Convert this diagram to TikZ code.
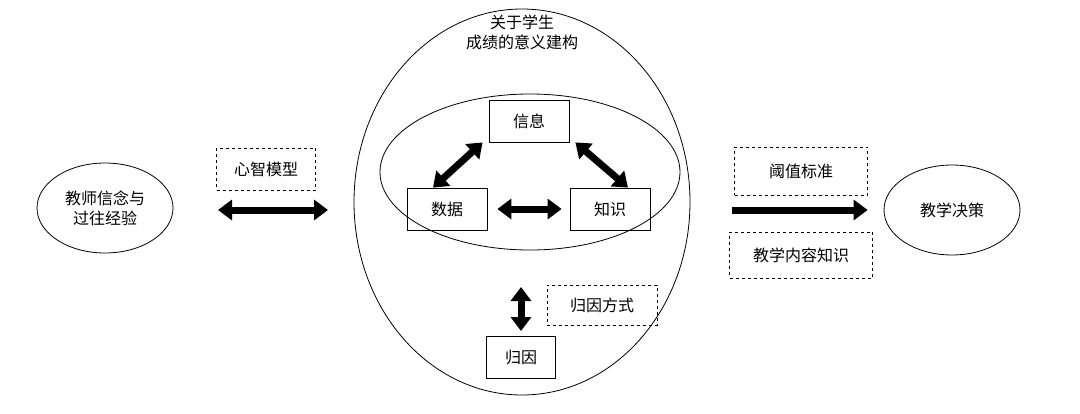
\documentclass[tikz,border=0pt]{standalone}
\usepackage{fontspec}
\setmainfont{Noto Sans CJK SC}
\usetikzlibrary{arrows.meta,shapes.geometric}
\begin{document}
\begin{tikzpicture}[x=1pt,y=-1pt,
  txt/.style={font=\fontsize{16}{20}\selectfont,align=center},
  box/.style={txt,draw,thick,minimum width=80pt,minimum height=42pt,inner sep=0pt},
  dbox/.style={txt,draw,dashed,minimum height=42pt,inner sep=0pt},
  ell/.style={txt,draw,thick,ellipse,minimum width=136pt,minimum height=90pt,inner sep=0pt},
  big/.style={line width=7pt,{Triangle[length=14pt,width=20pt]}-{Triangle[length=14pt,width=20pt]}},
  one/.style={line width=7pt,-{Triangle[length=14pt,width=20pt]}}]
\useasboundingbox (0,0) rectangle (1080,413);
\node[ell] (L) at (105,208) {教师信念与\\过往经验};
\node[dbox,minimum width=99pt] (mm) at (266,169) {心智模型};
\coordinate (la) at (218,210); \coordinate (lb) at (328,210);
\draw[big] (la) -- (lb);
\node[draw,thick,ellipse,minimum width=336pt,minimum height=386pt] (C) at (522,202) {};
\node[txt] (T) at (522,32) {关于学生\\成绩的意义建构};
\node[draw,thick,ellipse,minimum width=300pt,minimum height=156pt] (E) at (530,172) {};
\node[box] (xx) at (529,121) {信息};
\node[box] (sj) at (447,209) {数据};
\node[box] (zs) at (610,209) {知识};
\draw[big] ([xshift=-6pt]xx.south west) -- ([xshift=-14pt]sj.north);
\draw[big] ([xshift=6pt]xx.south east) -- ([xshift=18pt]zs.north);
\draw[big] ([xshift=10pt]sj.east) -- ([xshift=-8pt]zs.west);
\node[box,minimum width=69pt] (gy) at (521,357) {归因};
\coordinate (a1) at (521,331); \coordinate (a2) at (521,287);
\draw[big] (a1) -- (a2);
\node[dbox,minimum width=110pt,minimum height=40pt] (gf) at (602,305) {归因方式};
\node[dbox,minimum width=133pt,minimum height=48pt] (yz) at (801,171) {阈值标准};
\node[dbox,minimum width=143pt,minimum height=46pt] (jx) at (801,255) {教学内容知识};
\node[ell] (R) at (952,210) {教学决策};
\coordinate (ra) at (732,210);
\draw[one] (ra) -- ([xshift=-16pt]R.west);
\end{tikzpicture}
\end{document}
